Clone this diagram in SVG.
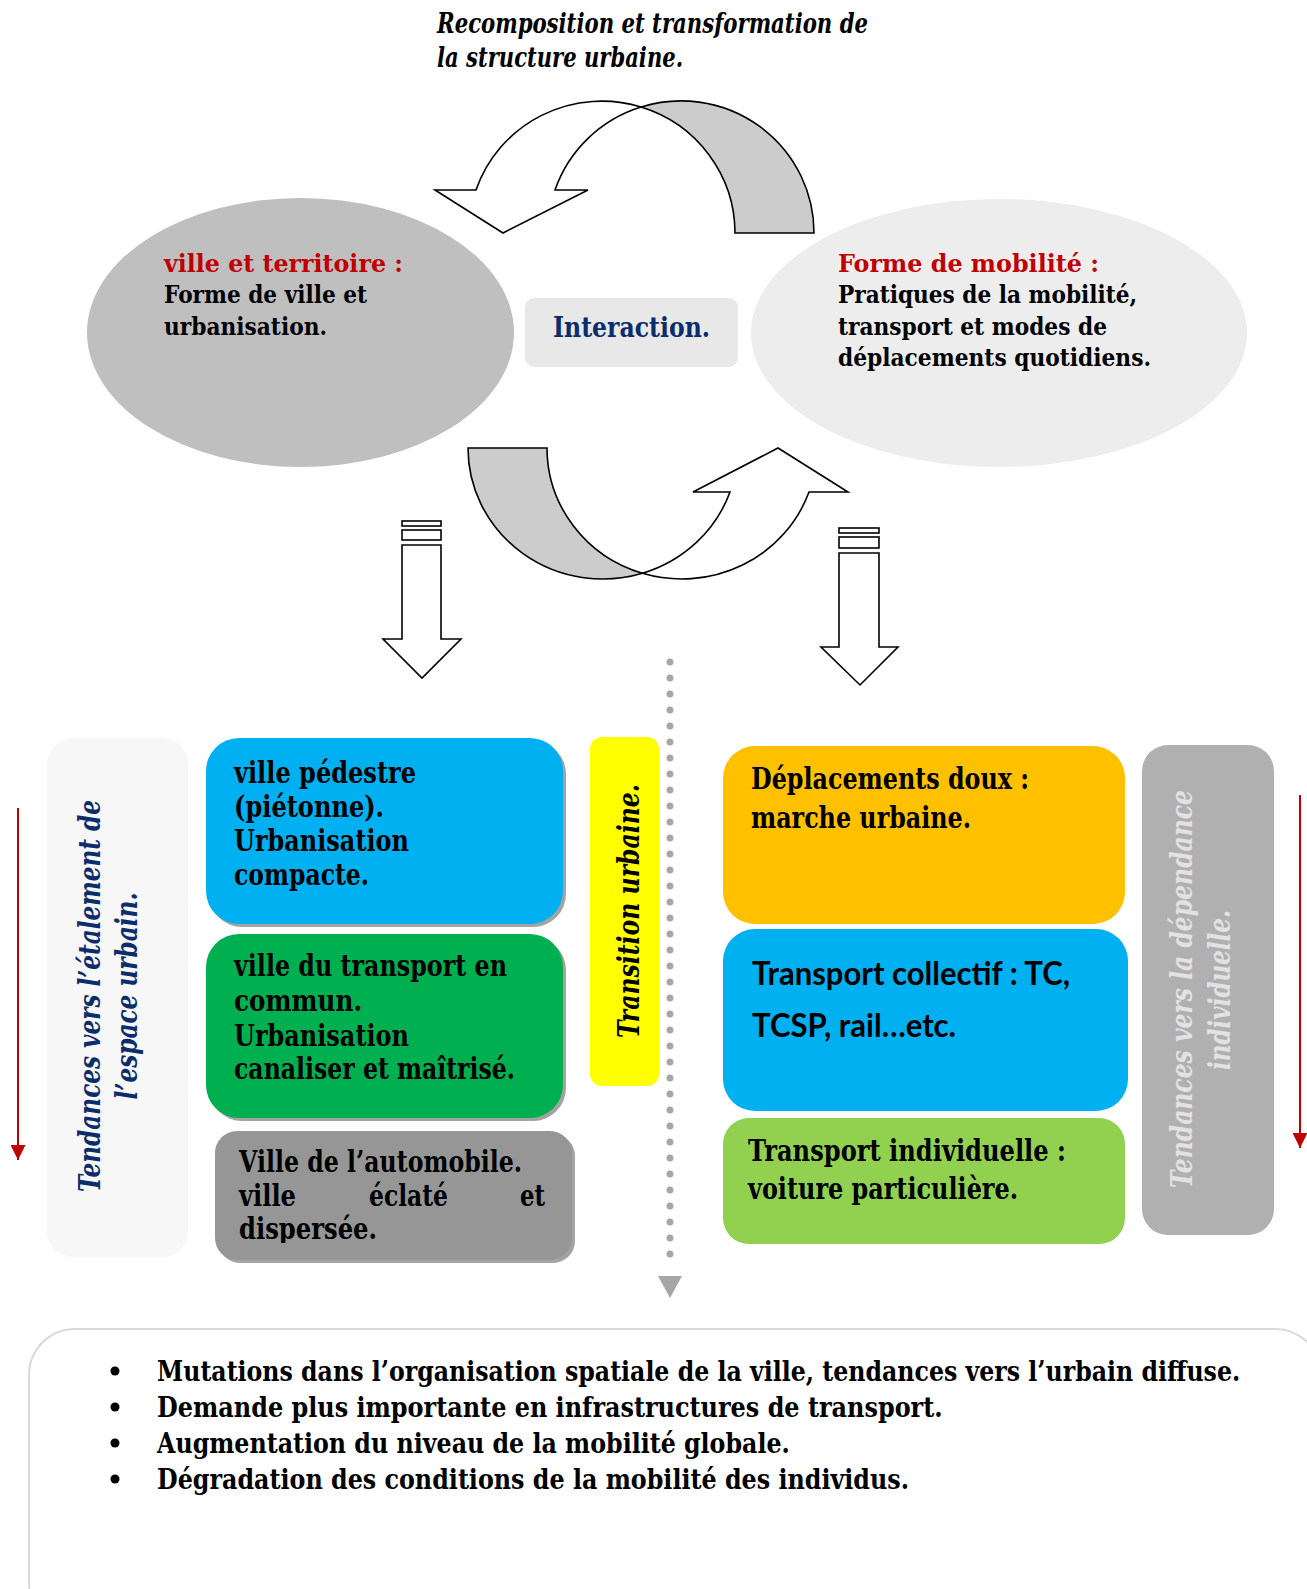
<svg xmlns="http://www.w3.org/2000/svg" width="1307" height="1589" viewBox="0 0 1307 1589">
  <defs>
    <style>
      .serif { font-family: 'DejaVu Serif', 'Liberation Serif', serif; font-weight: bold; }
      .ital { font-style: italic; }
      .sans { font-family: 'Liberation Sans Narrow', 'Lato', 'Liberation Sans', sans-serif; font-weight: bold; }
      .outline { stroke: #000; stroke-width: 1.6; stroke-linejoin: miter; }
      .shadow { fill: #A3A3A3; }
      .red { fill: #C00000; }
      .navy { fill: #0B2D6B; }
    </style>
    <marker id="redHead" viewBox="0 0 15 15" refX="15" refY="7.5" markerWidth="15" markerHeight="15" markerUnits="userSpaceOnUse" orient="auto">
      <path d="M0,0 L15,7.5 L0,15 Z" fill="#C00000"/>
    </marker>
    <clipPath id="grayClip">
      <rect x="215" y="1131" width="357" height="112"/>
    </clipPath>
  </defs>

  <rect width="1307" height="1589" fill="#FFFFFF"/>

  <!-- heading -->
  <g id="title" class="serif ital" font-size="27" fill="#000">
    <text x="437" y="33" textLength="431" lengthAdjust="spacingAndGlyphs">Recomposition et transformation de</text>
    <text x="437" y="67" textLength="246" lengthAdjust="spacingAndGlyphs">la structure urbaine.</text>
  </g>

  <!-- city / territory ellipse -->
  <g id="node-ville">
    <ellipse cx="300.5" cy="332.5" rx="213.5" ry="134.5" fill="#BFBFBF"/>
    <g class="serif" font-size="25">
      <text class="red" x="164" y="272" textLength="239" lengthAdjust="spacingAndGlyphs">ville et territoire :</text>
      <text x="164" y="303" textLength="203" lengthAdjust="spacingAndGlyphs">Forme de ville et</text>
      <text x="164" y="335" textLength="163" lengthAdjust="spacingAndGlyphs">urbanisation.</text>
    </g>
  </g>

  <!-- mobility ellipse -->
  <g id="node-mobilite">
    <ellipse cx="999" cy="333" rx="248" ry="134" fill="#EDEDED"/>
    <g class="serif" font-size="25">
      <text class="red" x="838" y="272" textLength="261" lengthAdjust="spacingAndGlyphs">Forme de mobilité :</text>
      <text x="838" y="303" textLength="299" lengthAdjust="spacingAndGlyphs">Pratiques de la mobilité,</text>
      <text x="838" y="335" textLength="269" lengthAdjust="spacingAndGlyphs">transport et modes de</text>
      <text x="838" y="366" textLength="313" lengthAdjust="spacingAndGlyphs">déplacements quotidiens.</text>
    </g>
  </g>

  <!-- interaction label -->
  <g id="node-interaction">
    <rect x="525" y="298" width="213" height="69" rx="9" fill="#E8E8E8"/>
    <text class="serif navy" x="553" y="337" font-size="27" textLength="157" lengthAdjust="spacingAndGlyphs">Interaction.</text>
  </g>

  <!-- left tendency panel -->
  <g id="node-etalement">
    <rect x="47" y="738" width="141" height="519" rx="26" fill="#F7F7F7"/>
    <g class="serif ital navy" font-size="30" text-anchor="middle">
      <text transform="translate(100,996) rotate(-90)" textLength="392" lengthAdjust="spacingAndGlyphs">Tendances vers l’étalement de</text>
      <text transform="translate(137,996) rotate(-90)" textLength="207" lengthAdjust="spacingAndGlyphs">l’espace urbain.</text>
    </g>
  </g>

  <!-- city forms -->
  <g id="node-pedestre">
    <rect class="shadow" x="209" y="741" width="357" height="186" rx="33"/>
    <rect x="206" y="738" width="357" height="186" rx="33" fill="#00B0F0"/>
    <g class="serif" font-size="29">
      <text x="234" y="783" textLength="182" lengthAdjust="spacingAndGlyphs">ville pédestre</text>
      <text x="234" y="817" textLength="150" lengthAdjust="spacingAndGlyphs">(piétonne).</text>
      <text x="234" y="851" textLength="175" lengthAdjust="spacingAndGlyphs">Urbanisation</text>
      <text x="234" y="885" textLength="135" lengthAdjust="spacingAndGlyphs">compacte.</text>
    </g>
  </g>

  <g id="node-transport-commun">
    <rect class="shadow" x="209" y="937" width="357" height="184" rx="33"/>
    <rect x="206" y="934" width="357" height="184" rx="33" fill="#00B050"/>
    <g class="serif" font-size="29">
      <text x="234" y="976" textLength="273" lengthAdjust="spacingAndGlyphs">ville du transport en</text>
      <text x="234" y="1011" textLength="128" lengthAdjust="spacingAndGlyphs">commun.</text>
      <text x="234" y="1046" textLength="175" lengthAdjust="spacingAndGlyphs">Urbanisation</text>
      <text x="234" y="1079" textLength="281" lengthAdjust="spacingAndGlyphs">canaliser et maîtrisé.</text>
    </g>
  </g>

  <g id="node-automobile">
    <rect class="shadow" x="218" y="1134" width="357" height="129" rx="22"/>
    <rect x="215" y="1131" width="357" height="129" rx="22" fill="#969696"/>
    <g class="serif" font-size="29" clip-path="url(#grayClip)">
      <text x="239" y="1172" textLength="283" lengthAdjust="spacingAndGlyphs">Ville de l’automobile.</text>
      <text x="239" y="1206" textLength="57" lengthAdjust="spacingAndGlyphs">ville</text>
      <text x="369" y="1206" textLength="79" lengthAdjust="spacingAndGlyphs">éclaté</text>
      <text x="520" y="1206" textLength="25" lengthAdjust="spacingAndGlyphs">et</text>
      <text x="239" y="1239" textLength="138" lengthAdjust="spacingAndGlyphs">dispersée.</text>
    </g>
  </g>

  <!-- transition label -->
  <g id="node-transition">
    <rect x="590" y="737" width="69" height="349" rx="12" fill="#FFFF00"/>
    <text class="serif ital" transform="translate(639,911) rotate(-90)" font-size="29" text-anchor="middle" textLength="254" lengthAdjust="spacingAndGlyphs">Transition urbaine.</text>
  </g>

  <!-- mobility modes -->
  <g id="node-doux">
    <rect x="723" y="746" width="402" height="178" rx="32" fill="#FFC000"/>
    <g class="serif" font-size="29">
      <text x="751" y="789" textLength="278" lengthAdjust="spacingAndGlyphs">Déplacements doux :</text>
      <text x="751" y="828" textLength="220" lengthAdjust="spacingAndGlyphs">marche urbaine.</text>
    </g>
  </g>

  <g id="node-collectif">
    <rect x="723" y="929" width="405" height="182" rx="32" fill="#00B0F0"/>
    <g class="sans" font-size="33">
      <text x="752" y="985" textLength="318" lengthAdjust="spacingAndGlyphs">Transport collectif : TC,</text>
      <text x="752" y="1037" textLength="204" lengthAdjust="spacingAndGlyphs">TCSP, rail…etc.</text>
    </g>
  </g>

  <g id="node-individuel">
    <rect x="723" y="1118" width="402" height="126" rx="26" fill="#92D050"/>
    <g class="serif" font-size="29">
      <text x="748" y="1161" textLength="318" lengthAdjust="spacingAndGlyphs">Transport individuelle :</text>
      <text x="748" y="1199" textLength="270" lengthAdjust="spacingAndGlyphs">voiture particulière.</text>
    </g>
  </g>

  <!-- right tendency panel -->
  <g id="node-dependance">
    <rect x="1142" y="745" width="132" height="490" rx="26" fill="#B0B0B0"/>
    <g class="serif ital" font-size="30" fill="#E2E2E2" text-anchor="middle">
      <text transform="translate(1192,989) rotate(-90)" textLength="398" lengthAdjust="spacingAndGlyphs">Tendances vers la dépendance</text>
      <text transform="translate(1230,990) rotate(-90)" textLength="160" lengthAdjust="spacingAndGlyphs">individuelle.</text>
    </g>
  </g>

  <!-- consequences box -->
  <g id="node-consequences">
    <rect x="29" y="1329" width="1292" height="300" rx="46" fill="#FFFFFF" stroke="#D9D9D9" stroke-width="2"/>
    <g fill="#000">
      <circle cx="115" cy="1371" r="4.5"/>
      <circle cx="115" cy="1407" r="4.5"/>
      <circle cx="115" cy="1443" r="4.5"/>
      <circle cx="115" cy="1479" r="4.5"/>
    </g>
    <!-- condensed bullet lines: drawn at 0.8 horizontal scale -->
    <g class="serif" font-size="28" transform="translate(157,0) scale(0.8,1)">
      <text x="0" y="1381" textLength="1354" lengthAdjust="spacingAndGlyphs">Mutations dans l’organisation spatiale de la ville, tendances vers l’urbain diffuse.</text>
      <text x="0" y="1417" textLength="982" lengthAdjust="spacingAndGlyphs">Demande plus importante en infrastructures de transport.</text>
      <text x="0" y="1453" textLength="791" lengthAdjust="spacingAndGlyphs">Augmentation du niveau de la mobilité globale.</text>
      <text x="0" y="1489" textLength="940" lengthAdjust="spacingAndGlyphs">Dégradation des conditions de la mobilité des individus.</text>
    </g>
  </g>

  <!-- connectors -->
  <g id="connectors">
    <!-- upper curved arrow: tail on the right, head pointing down-left -->
    <path class="outline" fill="#CCCCCC" d="M814,233 A133,132 0 0 0 641,107 A133,132 0 0 1 735,233 Z"/>
    <path class="outline" fill="#FFFFFF" d="M641,107 A133,132 0 0 0 476,190 L435,190 L503,233 L588,190 L555,190 A133,132 0 0 1 641,107 Z"/>

    <!-- lower curved arrow: tail on the left, head pointing up-right -->
    <path class="outline" fill="#CCCCCC" d="M468,448 A135,131 0 0 0 642.5,573.3 A135,131 0 0 1 547,448 Z"/>
    <path class="outline" fill="#FFFFFF" d="M642.5,573.3 A135,131 0 0 0 809,492 L848,492 L778,448 L693,492 L730,492 A135,131 0 0 1 642.5,573.3 Z"/>

    <!-- striped block arrows -->
    <g class="outline" fill="#FFFFFF">
      <rect x="402" y="521" width="39" height="5"/>
      <rect x="402" y="530" width="39" height="10"/>
      <path d="M402,545 L441,545 L441,639 L461,639 L422,678 L383,639 L402,639 Z"/>

      <rect x="839" y="528" width="40" height="5"/>
      <rect x="839" y="537" width="40" height="11"/>
      <path d="M839,553 L879,553 L879,647 L898,647 L860,685 L821,647 L839,647 Z"/>
    </g>

    <!-- dotted divider -->
    <line x1="670" y1="662" x2="670" y2="1270" stroke="#A6A6A6" stroke-width="7" stroke-linecap="round" stroke-dasharray="0 16"/>
    <path d="M658,1276 L682,1276 L670,1298 Z" fill="#A6A6A6"/>

    <!-- red trend arrows -->
    <line x1="18" y1="808" x2="18" y2="1160" stroke="#C00000" stroke-width="2" marker-end="url(#redHead)"/>
    <line x1="1300" y1="795" x2="1300" y2="1148" stroke="#C00000" stroke-width="2" marker-end="url(#redHead)"/>
  </g>
</svg>
